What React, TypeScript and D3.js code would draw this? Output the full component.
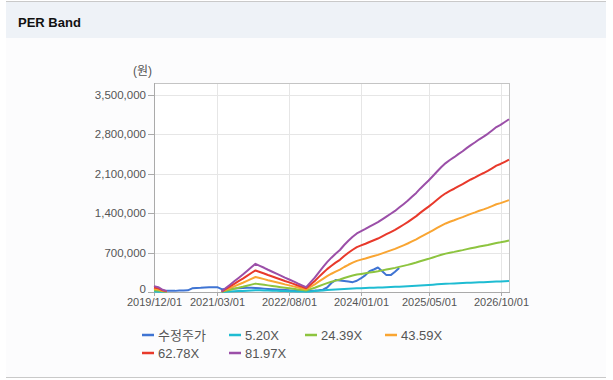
import React from "react";
import * as d3 from "d3";

// ---- data ----
const startMonth = new Date(2019, 11, 1);
const endMonth = new Date(2026, 11, 1);

// EPS basis (원) per month from 2019/12 (null = no band)
const eps: (number | null)[] = [
  1280, 1040, 490, 180,
  null, null, null, null, null, null, null, null, null, null, null, null,
  120, 850, 1590, 2320, 3050, 3780, 4570, 5370, 6100,
  5670, 5250, 4820, 4390, 3970, 3540, 3110, 2710, 2290, 1850, 1440, 1040,
  2070, 3110, 4210, 5370, 6470, 7440, 8300, 9100, 10190, 11100, 11960, 12690,
  13180, 13660, 14150, 14640, 15130, 15740, 16350, 16960, 17570, 18300,
  19030, 19760, 20620, 21470, 22390, 23300, 24160, 25130, 26110, 27080,
  27940, 28610, 29220, 29890, 30500, 31230, 31840, 32450, 33100, 33670,
  34280, 35010, 35750, 36230, 36840, 37450,
];

// 수정주가 (adjusted price) per month from 2019/12
const price: number[] = [
  30000, 25000, 20000, 20000, 20000, 20000, 25000, 25000, 30000, 65000,
  72000, 74000, 80000, 84000, 85000, 85000, 50000, 55000, 60000, 60000,
  65000, 70000, 75000, 75000, 70000, 65000, 60000, 55000, 50000, 45000,
  40000, 35000, 30000, 28000, 25000, 22000, 20000, 22000, 25000, 30000,
  40000, 80000, 160000, 212000, 205000, 195000, 185000, 175000, 200000, 245000,
  300000, 370000, 400000, 435000, 370000, 300000, 300000, 360000, 425000,
];

const perMultiples = [5.2, 24.39, 43.59, 62.78, 81.97];
const seriesNames = ["수정주가", "5.20X", "24.39X", "43.59X", "62.78X", "81.97X"];
const seriesColors = ["#3f74d3", "#1fbcd2", "#8dc43f", "#f9a532", "#e8392b", "#9b4fa8"];

const yTicks = [0, 700000, 1400000, 2100000, 2800000, 3500000];
const xTickLabels = ["2019/12/01", "2021/03/01", "2022/08/01", "2024/01/01", "2025/05/01", "2026/10/01"];

// ---- layout ----
const W = 613;
const H = 380;
const plot = { left: 154, right: 509, top: 83, bottom: 292 };
const yMax = 3713000;
const FONT = "'Liberation Sans', Arial, 'Noto Sans CJK KR', sans-serif";

export default function App() {
  const months = d3.timeMonth.range(startMonth, d3.timeMonth.offset(endMonth, 1));
  const x = d3.scaleTime().domain([startMonth, endMonth]).range([plot.left, plot.right]);
  const y = d3.scaleLinear().domain([0, yMax]).range([plot.bottom, plot.top]);
  const parse = d3.timeParse("%Y/%m/%d");
  const fmt = d3.format(",");

  type Pt = { d: Date; v: number | null };
  const line = d3
    .line<Pt>()
    .defined((p) => p.v !== null)
    .x((p) => x(p.d))
    .y((p) => y(p.v as number));

  const series: Pt[][] = [
    price.map((v, i) => ({ d: months[i], v })),
    ...perMultiples.map((m) =>
      eps.map((e, i) => ({ d: months[i], v: e === null ? null : e * m }))
    ),
  ];

  const legendCols = [142, 229, 305, 385];
  const legendRows = [335, 353];

  return (
    <svg
      width={W}
      height={H}
      style={{ position: "absolute", left: 0, top: 0, background: "#ffffff" }}
      fontFamily={FONT}
    >
      {/* panel */}
      <rect x={6} y={1} width={600} height={376} fill="#fcfcfd" />
      <line x1={6} x2={606} y1={1.5} y2={1.5} stroke="#c9c9c9" />
      <line x1={6} x2={606} y1={377.5} y2={377.5} stroke="#c9c9c9" />
      <rect x={6} y={2} width={600} height={36} fill="#eef2f7" />
      <text x={18} y={27} fontSize={13} fontWeight="bold" fill="#111">
        PER Band
      </text>

      {/* plot background */}
      <rect
        x={plot.left}
        y={plot.top}
        width={plot.right - plot.left}
        height={plot.bottom - plot.top}
        fill="#ffffff"
      />

      {/* grid */}
      {yTicks.map((t) => (
        <line
          key={"gy" + t}
          x1={plot.left}
          x2={plot.right}
          y1={Math.round(y(t)) + 0.5}
          y2={Math.round(y(t)) + 0.5}
          stroke="#e6e6e6"
        />
      ))}
      {xTickLabels.map((t) => {
        const xx = Math.round(x(parse(t) as Date)) + 0.5;
        return <line key={"gx" + t} x1={xx} x2={xx} y1={plot.top} y2={plot.bottom} stroke="#e6e6e6" />;
      })}

      {/* frame */}
      <rect
        x={plot.left + 0.5}
        y={plot.top + 0.5}
        width={plot.right - plot.left}
        height={plot.bottom - plot.top}
        fill="none"
        stroke="#c4c4c4"
      />
      <line x1={plot.left + 0.5} x2={plot.left + 0.5} y1={plot.top} y2={plot.bottom + 1} stroke="#aaaaaa" />
      <line x1={plot.left} x2={plot.right + 1} y1={plot.bottom + 0.5} y2={plot.bottom + 0.5} stroke="#aaaaaa" />

      {/* y axis */}
      <text x={133} y={75} fontSize={12} fill="#555">
        (원)
      </text>
      {yTicks.map((t) => {
        const yy = Math.round(y(t)) + 0.5;
        return (
          <g key={"yt" + t}>
            <line x1={plot.left - 6} x2={plot.left} y1={yy} y2={yy} stroke="#aaaaaa" />
            <text
              x={plot.left - 8}
              y={t === 0 ? yy + 0.5 : yy + 3.5}
              fontSize={11.5}
              textAnchor="end"
              fill="#555"
            >
              {fmt(t)}
            </text>
          </g>
        );
      })}

      {/* x axis */}
      {xTickLabels.map((t) => {
        const xx = Math.round(x(parse(t) as Date)) + 0.5;
        return (
          <g key={"xt" + t}>
            <line x1={xx} x2={xx} y1={plot.bottom} y2={plot.bottom + 4} stroke="#aaaaaa" />
            <text x={xx} y={305.5} fontSize={11} textAnchor="middle" fill="#555">
              {t}
            </text>
          </g>
        );
      })}

      {/* lines */}
      <g>
        {series.map((s, i) => (
          <path
            key={"s" + i}
            d={line(s) || ""}
            fill="none"
            stroke={seriesColors[i]}
            strokeWidth={2}
            strokeLinejoin="round"
          />
        ))}
      </g>

      {/* legend */}
      {seriesNames.map((n, i) => {
        const lx = legendCols[i % 4];
        const ly = legendRows[Math.floor(i / 4)];
        return (
          <g key={"lg" + i}>
            <line x1={lx} x2={lx + 12} y1={ly} y2={ly} stroke={seriesColors[i]} strokeWidth={2.5} />
            <text x={lx + 16} y={ly + 5} fontSize={13} fill="#555">
              {n}
            </text>
          </g>
        );
      })}
    </svg>
  );
}
